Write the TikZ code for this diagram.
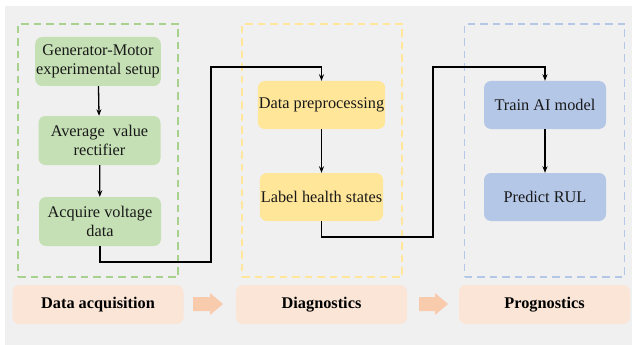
\documentclass[tikz,border=0pt]{standalone}
\usepackage{fontspec}
\setmainfont{Liberation Serif}
\usetikzlibrary{arrows.meta}
\definecolor{bgc}{HTML}{F0F0F0}
\definecolor{gfill}{HTML}{C5E0B4}
\definecolor{gdash}{HTML}{A9D18E}
\definecolor{yfill}{HTML}{FFE699}
\definecolor{ydash}{HTML}{FFE699}
\definecolor{bfill}{HTML}{B4C7E7}
\definecolor{bdash}{HTML}{B4C7E7}
\definecolor{lfill}{HTML}{FBE5D6}
\definecolor{afill}{HTML}{F8CBAD}
\tikzset{
  stepbox/.style={rounded corners=7pt, minimum width=122pt, minimum height=49pt, inner sep=1pt, align=center, font=\fontsize{16.3}{19.5}\selectfont, text=black!90},
  dashbox/.style={draw, dash pattern=on 7.5pt off 5pt, line width=1.3pt, minimum width=160pt, minimum height=253pt, inner sep=0pt},
  labbox/.style={fill=lfill, rounded corners=7pt, minimum width=171pt, minimum height=39pt, inner sep=0pt, font=\fontsize{16.3}{19.5}\selectfont\bfseries},
  conn/.style={line width=1.3pt, -{Stealth[length=6.5pt,width=5pt]}},
}
\begin{document}
\begin{tikzpicture}[x=1pt,y=-1pt]
\useasboundingbox (0,0) rectangle (632,345);
\fill[bgc] (5,6) rectangle (632,345);
% dashed frames
\node[dashbox, draw=gdash] (gframe) at (98,150.5) {};
\node[dashbox, draw=ydash] (yframe) at (322,150.5) {};
\node[dashbox, draw=bdash] (bframe) at (544.5,150.5) {};
% green steps
\node[stepbox, fill=gfill] (gen) at (98,61.5) {Generator-Motor\\experimental setup};
\node[stepbox, fill=gfill] (avg) at (99.5,140.5) {Average\ \ value\\rectifier};
\node[stepbox, fill=gfill] (acq) at (100,221.5) {Acquire voltage\\data};
% yellow steps
\node[stepbox, fill=yfill, minimum width=121pt, minimum height=48pt] (pre) at (321.5,105) {Data preprocessing};
\node[stepbox, fill=yfill, minimum width=121pt, minimum height=48pt] (lab) at (321.5,197) {Label health states};
% blue steps
\node[stepbox, fill=bfill, minimum height=48pt] (tra) at (545,105) {Train AI model};
\node[stepbox, fill=bfill, minimum height=48pt] (pre2) at (545,197) {Predict RUL};
% connectors
\draw[conn] (gen) -- (avg);
\draw[conn] (avg) -- (acq);
\coordinate (c1) at (211,262);
\coordinate (c2) at (211,67);
\draw[conn] (acq.south) |- (c1) -- (c2) -| (pre.north);
\draw[conn] (pre) -- (lab);
\coordinate (c3) at (433,237);
\coordinate (c4) at (433,67);
\draw[conn] (lab.south) |- (c3) -- (c4) -| (tra.north);
\draw[conn] (tra) -- (pre2);
% bottom labels
\node[labbox] (la) at (98,304.5) {Data acquisition};
\node[labbox] (lb) at (321.5,304.5) {Diagnostics};
\node[labbox] (lc) at (544.5,304.5) {Prognostics};
% block arrows
\fill[afill] (193,297) -- (210,297) -- (210,293) -- (223,304) -- (210,315) -- (210,311) -- (193,311) -- cycle;
\fill[afill] (419,297) -- (435,297) -- (435,293) -- (448,304) -- (435,315) -- (435,311) -- (419,311) -- cycle;
\end{tikzpicture}
\end{document}
